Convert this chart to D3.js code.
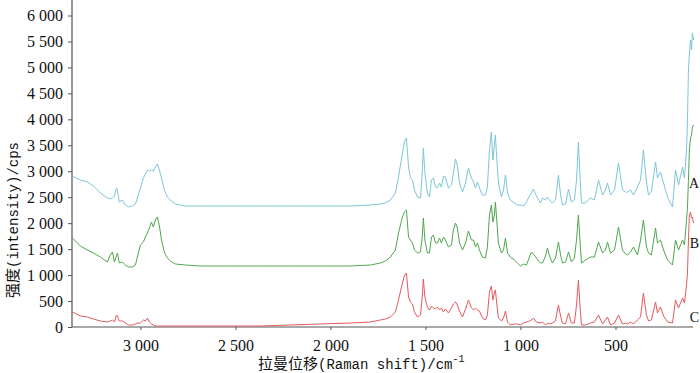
<!DOCTYPE html>
<html>
<head>
<meta charset="utf-8">
<script src="https://cdn.jsdelivr.net/npm/d3@7"></script>
<style>
  body { margin: 0; background: #fff; }
  svg { display: block; }
</style>
</head>
<body>
<div class="canvas"><svg></svg></div>
<script>
// Raman shift (cm-1), shared by the three spectra
const shifts = [3358,3316,3279,3247,3211,3174,3158,3147,3137,3126,3121,3111,3095,3079,3063,3042,3026,3016,3000,2984,
  2974,2963,2953,2942,2932,2921,2911,2900,2889,2874,2858,2842,2816,2763,2684,2526,2368,2211,2053,1895,
  1789,1737,1711,1684,1658,1642,1621,1611,1600,1589,1579,1568,1558,1542,1526,1516,1511,1503,1490,1479,
  1468,1458,1447,1437,1426,1416,1405,1395,1379,1363,1353,1342,1332,1321,1305,1289,1274,1258,1247,1237,
  1226,1216,1200,1184,1174,1163,1153,1145,1137,1132,1124,1116,1100,1089,1079,1068,1053,1032,1016,1000,
  984,968,953,942,932,916,895,884,868,858,847,832,816,800,789,779,763,747,732,716,
  705,695,687,679,658,632,611,589,568,553,542,526,505,484,463,447,437,421,405,384,
  368,353,337,326,311,289,279,263,247,226,200,184,168,147,137,126,121,116,111,105,
  100,95,89]

const seriesA = [2908,2831,2793,2716,2581,2485,2465,2485,2523,2677,2639,2408,2446,2350,2311,2330,2369,2485,2677,2870,
  2947,3024,3005,3024,3005,3082,3139,3024,2870,2639,2504,2446,2369,2330,2330,2330,2330,2330,2330,2330,
  2350,2369,2388,2446,2581,2889,3351,3563,3640,3082,2870,2831,2639,2504,2485,3024,3448,2985,2581,2504,
  2831,2870,2696,2677,2773,2696,2908,2889,2677,2735,2966,3236,3120,2773,2600,2773,3062,2870,2793,2677,
  2793,2677,2542,2542,2696,3409,3756,3216,3505,3698,3216,2773,2504,2639,2928,2581,2446,2388,2350,2350,
  2330,2408,2523,2581,2658,2523,2388,2485,2446,2504,2446,2388,2446,2928,2542,2350,2369,2658,2408,2446,
  2831,3563,2928,2388,2388,2485,2446,2831,2542,2639,2773,2542,2639,3159,2639,2600,2600,2639,2542,2696,
  2831,3409,2793,2542,2600,3178,2870,2985,2773,2504,2311,3024,2735,3082,2870,3409,3987,4950,5239,5528,
  5335,5662,5528]

const seriesB = [1714,1560,1483,1425,1348,1252,1387,1445,1252,1367,1425,1233,1252,1194,1156,1156,1194,1348,1579,1637,
  1733,1810,1907,2022,1926,2061,2119,1945,1676,1445,1329,1271,1213,1194,1175,1175,1175,1175,1175,1175,
  1194,1233,1271,1348,1483,1810,2119,2215,2253,1733,1676,1618,1483,1425,1445,1772,2099,1676,1425,1425,
  1733,1772,1618,1618,1714,1618,1733,1676,1541,1579,1868,2003,1907,1618,1483,1618,1849,1676,1676,1541,
  1618,1483,1348,1329,1541,2157,2350,2022,2157,2408,2022,1618,1425,1483,1714,1425,1348,1290,1233,1175,
  1213,1194,1348,1445,1406,1329,1233,1233,1367,1522,1367,1233,1329,1637,1387,1233,1252,1445,1252,1329,
  1676,2157,1676,1233,1290,1348,1348,1637,1425,1483,1637,1425,1483,1926,1483,1406,1387,1445,1541,1387,
  1676,2061,1541,1425,1387,1907,1618,1676,1483,1290,1194,1676,1483,1676,1579,2061,2311,2831,3409,3640,
  3698,3852,3891]

const seriesC = [289,212,193,154,116,96,116,135,96,231,212,116,116,77,39,39,58,77,77,135,
  116,173,96,58,39,19,19,19,19,19,19,19,19,19,19,19,19,39,58,77,
  96,135,154,193,289,520,847,982,1040,578,482,443,289,193,231,616,924,578,385,327,
  404,366,347,385,327,366,289,347,270,366,443,482,424,308,193,347,520,366,327,366,
  327,308,173,135,231,674,790,520,655,713,424,173,116,173,308,96,39,58,58,39,
  77,96,116,135,173,96,77,96,39,77,58,77,116,424,212,77,58,270,77,77,
  424,905,424,39,39,77,96,231,58,135,193,39,77,231,58,77,58,96,58,135,
  193,655,231,116,135,482,270,385,212,96,77,520,366,559,462,809,1040,1676,2157,2215,
  2099,2119,2003]

const xTicks = [3000, 2500, 2000, 1500, 1000, 500]
const yTicks = [0, 500, 1000, 1500, 2000, 2500, 3000, 3500, 4000, 4500, 5000, 5500, 6000]
const seriesNames = ['A', 'B', 'C']
const seriesColors = ['#7cc6d8', '#4fa64f', '#e5595c']
const labelValues = [2780, 1620, 190]

const width = 700
const height = 373
const svg = d3.select('.canvas').select('svg')
    .attr('width', width)
    .attr('height', height)

const x = d3.scaleLinear().domain([3360, 92]).range([72, 693])
const y = d3.scaleLinear().domain([0, 6000]).range([327, 15.5])

const locale = d3.formatLocale({ decimal: '.', thousands: ' ', grouping: [3], currency: ['', ''] })
const fmt = locale.format(',')

const serif = '"Liberation Serif", "DejaVu Serif", serif'
const axisColor = '#555'

// y axis
const gy = svg.append('g')
    .attr('transform', `translate(${x.range()[0]},0)`)
    .call(d3.axisLeft(y).tickValues(yTicks).tickFormat(fmt).tickSize(4).tickPadding(5).tickSizeOuter(0))
gy.select('.domain').remove()
gy.selectAll('line').attr('stroke', axisColor)
gy.selectAll('text').attr('font-family', serif).attr('font-size', 16).attr('fill', '#111')

// x axis
const gx = svg.append('g')
    .attr('transform', `translate(0,${y.range()[0]})`)
    .call(d3.axisBottom(x).tickValues(xTicks).tickFormat(fmt).tickSize(3).tickPadding(10).tickSizeOuter(0))
gx.select('.domain').remove()
gx.selectAll('line').attr('stroke', axisColor)
gx.selectAll('text').attr('font-family', serif).attr('font-size', 16).attr('fill', '#111')

// axis lines
svg.append('line')
    .attr('x1', x.range()[0]).attr('x2', x.range()[0])
    .attr('y1', 0).attr('y2', y.range()[0])
    .attr('stroke', axisColor).attr('stroke-width', 1.2)
svg.append('line')
    .attr('x1', x.range()[0]).attr('x2', x.range()[1])
    .attr('y1', y.range()[0]).attr('y2', y.range()[0])
    .attr('stroke', axisColor).attr('stroke-width', 1.2)

// spectra
const series = [seriesA, seriesB, seriesC]
const line = d3.line()
    .x(d => x(d[0]))
    .y(d => y(d[1]))

series.forEach((vals, i) => {
    const pts = shifts.map((s, j) => [s, vals[j]]).filter(d => d[1] != null)
    svg.append('path')
        .datum(pts)
        .attr('fill', 'none')
        .attr('stroke', seriesColors[i])
        .attr('stroke-width', 1)
        .attr('stroke-linejoin', 'round')
        .attr('d', line)
})

// series labels
svg.selectAll('.lab')
    .data(seriesNames)
    .enter()
    .append('text')
    .attr('x', width - 1)
    .attr('y', (d, i) => y(labelValues[i]))
    .attr('dy', '0.35em')
    .attr('text-anchor', 'end')
    .attr('font-family', serif)
    .attr('font-size', 14)
    .attr('fill', '#111')
    .text(d => d)

// axis titles
const cjk = '"Noto Sans CJK SC", sans-serif'
const mono = '"Liberation Mono", "DejaVu Sans Mono", monospace'

const xt = svg.append('text')
    .attr('x', 258).attr('y', 369)
    .attr('font-size', 15).attr('fill', '#111')
xt.append('tspan').attr('font-family', cjk).text('拉曼位移')
xt.append('tspan').attr('font-family', mono).attr('font-size', 14).text('(Raman shift)/cm')
xt.append('tspan').attr('font-family', mono).attr('font-size', 10).attr('dy', -7).text('-1')

const yt = svg.append('text')
    .attr('transform', 'translate(18,220) rotate(-90)')
    .attr('text-anchor', 'middle')
    .attr('font-size', 15).attr('fill', '#111')
yt.append('tspan').attr('font-family', cjk).text('强度')
yt.append('tspan').attr('font-family', mono).attr('font-size', 14).text('(intensity)/cps')
</script>
</body>
</html>
